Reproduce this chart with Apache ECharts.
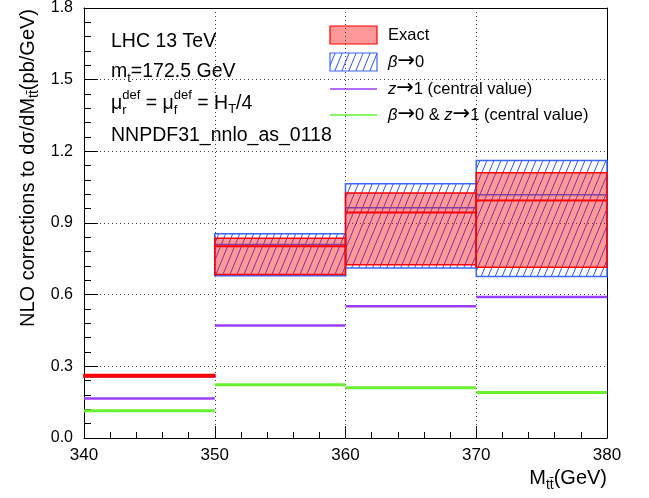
<!DOCTYPE html>
<html>
<head>
<meta charset="utf-8">
<script src="https://cdn.jsdelivr.net/npm/echarts@6/dist/echarts.min.js"></script>
<style>
html,body{margin:0;padding:0;background:#fff;}
#main{width:649px;height:498px;}
</style>
</head>
<body>
<div id="main"></div>
<script>
// ---- data ----
const binEdges = [340, 350, 360, 370, 380];
const exactCentral = [0.261, 0.803, 0.944, 0.994];
const exactLow = [0.255, 0.684, 0.725, 0.715];
const exactHigh = [0.266, 0.836, 1.026, 1.110];
const beta0Central = [0.261, 0.810, 0.964, 1.018];
const beta0Low = [0.256, 0.679, 0.712, 0.676];
const beta0High = [0.265, 0.855, 1.064, 1.162];
const z1Central = [0.165, 0.471, 0.552, 0.590];
const beta0z1Central = [0.114, 0.223, 0.210, 0.190];
const xMin = 340, xMax = 380, xStep = 10;
const yMin = 0, yMax = 1.8, yStep = 0.3;

const FONT = '"Liberation Sans", Arial, "DejaVu Sans", sans-serif';
const ARROWFONT = '"DejaVu Sans", sans-serif';
const RED = '#ff0000';
const RED_FILL = 'rgba(255,0,0,0.4)';
const BLUE = '#3a66ff';
const PURPLE = '#9b3dff';
const GREEN = '#66f030';

// hatch pattern
const hatch = document.createElement('canvas');
hatch.width = 7; hatch.height = 17;
(function(){
  const c = hatch.getContext('2d');
  c.strokeStyle = 'rgb(45,85,255)';
  c.lineWidth = 1;
  for (const off of [-7, 0, 7]) {
    c.beginPath(); c.moveTo(off, 17); c.lineTo(off + 7, 0); c.stroke();
  }
})();
const hatchFill = {image: hatch, repeat: 'repeat'};

function bins(low, high, central) {
  return binEdges.slice(0, -1).map((x0, i) => [x0, binEdges[i + 1], low ? low[i] : central[i], high ? high[i] : central[i], central[i]]);
}

function bandSeries(data, fill, stroke, z) {
  return {
    type: 'custom', z: z, data: data, silent: true,
    renderItem: function (params, api) {
      const p0 = api.coord([api.value(0), api.value(3)]);
      const p1 = api.coord([api.value(1), api.value(2)]);
      return {type: 'rect', shape: {x: p0[0], y: p0[1], width: p1[0] - p0[0], height: p1[1] - p0[1]},
        style: {fill: fill, stroke: stroke, lineWidth: 1.5}};
    }
  };
}
function lineSeries(data, color, width, z) {
  return {
    type: 'custom', z: z, data: data, silent: true,
    renderItem: function (params, api) {
      const p0 = api.coord([api.value(0), api.value(4)]);
      const p1 = api.coord([api.value(1), api.value(4)]);
      return {type: 'line', shape: {x1: p0[0], y1: p0[1], x2: p1[0], y2: p1[1]},
        style: {stroke: color, lineWidth: width}};
    }
  };
}

// text helper
const mctx = document.createElement('canvas').getContext('2d');
function fontOf(it) { return (it.italic ? 'italic ' : '') + it.size + 'px ' + (it.family || FONT); }
function measure(t, font) { mctx.font = font; return mctx.measureText(t).width; }
function compound(x, y, parts, opts) {
  opts = opts || {};
  let cx = 0; const children = [];
  for (const p of parts) {
    const items = p.stack || [p];
    let w = 0;
    for (const it of items) {
      const font = fontOf(it);
      children.push({type: 'text', x: cx, y: it.dy || 0,
        style: {text: it.t, font: font, fill: '#000', textAlign: 'left', textVerticalAlign: 'middle', align: 'left', verticalAlign: 'middle'}});
      w = Math.max(w, measure(it.t, font));
    }
    cx += w;
  }
  if (opts.align === 'right') children.forEach(c => { c.x -= cx; });
  return {type: 'group', x: x, y: y, rotation: opts.rotation || 0, children: children, silent: true};
}

const S = 19.5, SS = 13, L = 16.5;
const AR = {t: '→', size: 21, family: ARROWFONT, dy: 0};
const graphics = [
  compound(111, 41.5, [{t: 'LHC 13 TeV', size: S}]),
  compound(111, 72, [{t: 'm', size: S}, {t: 't', size: SS, dy: 6}, {t: '=172.5 GeV', size: S}]),
  compound(111, 103.5, [{t: 'μ', size: S}, {stack: [{t: 'def', size: SS, dy: -8}, {t: 'r', size: SS, dy: 7}]},
    {t: ' = μ', size: S}, {stack: [{t: 'def', size: SS, dy: -8}, {t: 'f', size: SS, dy: 7}]},
    {t: ' = H', size: S}, {t: 'T', size: SS, dy: 6}, {t: '/4', size: S}]),
  compound(111, 136, [{t: 'NNPDF31_nnlo_as_0118', size: S}]),
  // axis titles
  compound(28, 9, [{t: 'NLO corrections to dσ/dM', size: 20}, {t: 'tt̄', size: 14, dy: 6}, {t: '(pb/GeV)', size: 20}], {align: 'right', rotation: Math.PI / 2}),
  compound(607, 478, [{t: 'M', size: 20}, {t: 'tt̄', size: 14, dy: 7}, {t: '(GeV)', size: 20}], {align: 'right'}),
  // legend
  {type: 'rect', shape: {x: 330, y: 26, width: 47, height: 18}, style: {fill: RED_FILL, stroke: RED, lineWidth: 1.2}, silent: true},
  compound(388, 35, [{t: 'Exact', size: L}]),
  {type: 'rect', shape: {x: 330, y: 53, width: 47, height: 18}, style: {fill: hatchFill, stroke: BLUE, lineWidth: 1.2}, silent: true},
  compound(388, 62, [{t: 'β', size: L, italic: true}, AR, {t: '0', size: L}]),
  {type: 'line', shape: {x1: 330, y1: 89, x2: 377, y2: 89}, style: {stroke: PURPLE, lineWidth: 1.5}, silent: true},
  compound(388, 89, [{t: 'z', size: L, italic: true}, AR, {t: '1 (central value)', size: L}]),
  {type: 'line', shape: {x1: 330, y1: 115, x2: 377, y2: 115}, style: {stroke: GREEN, lineWidth: 1.5}, silent: true},
  compound(388, 115, [{t: 'β', size: L, italic: true}, AR, {t: '0 & ', size: L}, {t: 'z', size: L, italic: true}, AR, {t: '1 (central value)', size: L}])
];

const chart = echarts.init(document.getElementById('main'), null, {renderer: 'canvas'});
const dotted = {show: true, lineStyle: {color: '#444', width: 1, type: [1, 3]}};
chart.setOption({
  animation: false,
  backgroundColor: '#fff',
  grid: {left: 84, right: 42, top: 8, bottom: 60, containLabel: false},
  xAxis: [{
    type: 'value', min: xMin, max: xMax, interval: xStep, position: 'bottom',
    axisLine: {show: true, onZero: false, lineStyle: {color: '#000', width: 1}},
    axisTick: {show: true, inside: true, length: 12, lineStyle: {color: '#000'}},
    minorTick: {show: true, splitNumber: 5, length: 6, lineStyle: {color: '#000'}},
    axisLabel: {color: '#000', fontSize: 17, fontFamily: FONT, margin: 9},
    splitLine: dotted
  }, {
    type: 'value', min: xMin, max: xMax, position: 'top',
    axisLine: {show: true, onZero: false, lineStyle: {color: '#000', width: 1}},
    axisTick: {show: false}, axisLabel: {show: false}, splitLine: {show: false}
  }],
  yAxis: [{
    type: 'value', min: yMin, max: yMax, interval: yStep, position: 'left',
    axisLine: {show: true, onZero: false, lineStyle: {color: '#000', width: 1}},
    axisTick: {show: true, inside: true, length: 14, lineStyle: {color: '#000'}},
    minorTick: {show: true, splitNumber: 5, length: 7, lineStyle: {color: '#000'}},
    axisLabel: {color: '#000', fontSize: 16, fontFamily: FONT, margin: 11, formatter: v => v.toFixed(1)},
    splitLine: dotted
  }, {
    type: 'value', min: yMin, max: yMax, position: 'right',
    axisLine: {show: true, onZero: false, lineStyle: {color: '#000', width: 1}},
    axisTick: {show: false}, axisLabel: {show: false}, splitLine: {show: false}
  }],
  series: [
    bandSeries(bins(beta0Low, beta0High, beta0Central), hatchFill, BLUE, 2),
    lineSeries(bins(null, null, beta0Central), BLUE, 1.5, 3),
    bandSeries(bins(exactLow, exactHigh, exactCentral), RED_FILL, RED, 4),
    lineSeries(bins(null, null, exactCentral), RED, 2, 5),
    lineSeries(bins(null, null, z1Central), PURPLE, 2.5, 6),
    lineSeries(bins(null, null, beta0z1Central), GREEN, 3, 7)
  ],
  graphic: graphics
});
</script>
</body>
</html>
